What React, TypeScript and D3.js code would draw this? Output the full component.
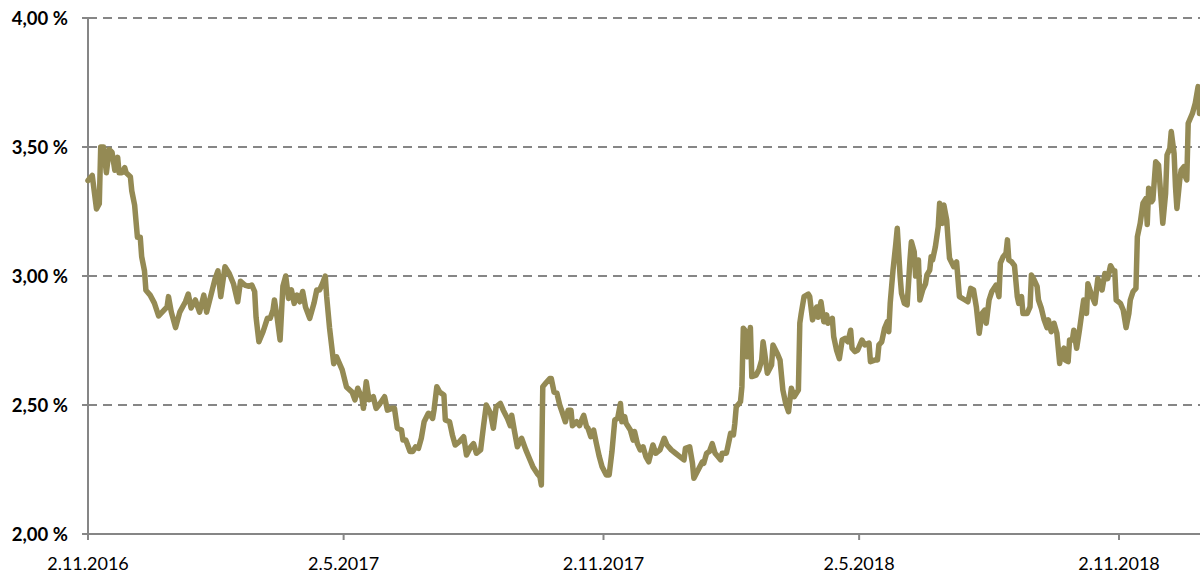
import React from "react";
import * as d3 from "d3";

// Yield series: [days since 2.11.2016, value in %]
const series: [number, number][] = [
  [0,3.37],[3,3.39],[6,3.26],[8,3.28],[9,3.50],[11,3.50],[13,3.40],[15,3.49],[17,3.48],[19,3.41],[21,3.46],[22,3.40],[24,3.40],[26,3.42],[27,3.40],[30,3.385],[31,3.33],[33,3.275],[35,3.15],[37,3.15],[38,3.075],[40,3.02],[41,2.945],[44,2.926],[47,2.895],[50,2.845],[56,2.88],[57,2.92],[59,2.86],[62,2.80],[65,2.86],[69,2.90],[71,2.93],[73,2.876],[76,2.907],[79,2.86],[82,2.926],[84,2.86],[88,2.946],[90,2.99],[92,3.02],[94,2.92],[97,3.036],[100,3.01],[103,2.97],[106,2.90],[108,2.98],[111,2.965],[114,2.96],[116,2.965],[118,2.94],[119,2.84],[121,2.745],[124,2.785],[127,2.836],[129,2.836],[131,2.868],[132,2.907],[134,2.836],[136,2.752],[138,2.96],[140,3.00],[142,2.913],[144,2.946],[146,2.894],[148,2.926],[150,2.90],[152,2.94],[154,2.88],[157,2.836],[160,2.894],[162,2.946],[164,2.946],[166,2.97],[168,3.00],[169,2.92],[171,2.80],[174,2.66],[176,2.687],[180,2.636],[183,2.57],[187,2.55],[189,2.52],[191,2.565],[194,2.526],[195,2.487],[197,2.59],[199,2.52],[202,2.532],[204,2.487],[206,2.50],[210,2.532],[212,2.48],[215,2.487],[217,2.487],[219,2.41],[222,2.403],[223,2.364],[225,2.364],[226,2.35],[228,2.32],[230,2.32],[232,2.338],[234,2.332],[236,2.371],[238,2.435],[241,2.468],[242,2.465],[244,2.448],[245,2.48],[247,2.571],[249,2.55],[252,2.539],[253,2.442],[256,2.435],[258,2.384],[260,2.345],[263,2.358],[266,2.377],[268,2.306],[271,2.338],[273,2.35],[275,2.313],[278,2.326],[280,2.416],[282,2.50],[285,2.468],[287,2.41],[289,2.493],[292,2.506],[294,2.48],[297,2.448],[299,2.42],[300,2.46],[302,2.397],[304,2.338],[307,2.371],[310,2.326],[313,2.287],[315,2.261],[318,2.235],[320,2.222],[321,2.19],[322,2.571],[324,2.584],[327,2.603],[328,2.603],[330,2.55],[332,2.546],[334,2.50],[336,2.468],[338,2.435],[340,2.48],[342,2.48],[343,2.42],[346,2.435],[348,2.42],[350,2.448],[351,2.46],[353,2.416],[354,2.41],[356,2.377],[358,2.403],[360,2.35],[362,2.30],[364,2.261],[367,2.229],[369,2.229],[371,2.32],[373,2.442],[375,2.448],[377,2.506],[378,2.435],[380,2.455],[381,2.429],[384,2.403],[386,2.364],[387,2.397],[389,2.35],[391,2.326],[393,2.338],[395,2.30],[397,2.28],[400,2.345],[402,2.313],[405,2.326],[408,2.371],[410,2.345],[413,2.326],[416,2.313],[419,2.30],[422,2.287],[423,2.332],[426,2.338],[428,2.274],[429,2.216],[432,2.248],[435,2.28],[436,2.274],[438,2.313],[440,2.32],[442,2.35],[444,2.313],[446,2.30],[448,2.287],[449,2.313],[452,2.313],[453,2.338],[455,2.39],[457,2.384],[458,2.429],[459,2.493],[461,2.506],[462,2.513],[463,2.571],[464,2.797],[466,2.784],[467,2.687],[469,2.80],[470,2.61],[473,2.616],[475,2.636],[477,2.674],[478,2.745],[479,2.707],[481,2.623],[484,2.655],[485,2.733],[488,2.70],[490,2.674],[491,2.616],[492,2.558],[494,2.506],[496,2.474],[498,2.565],[500,2.532],[503,2.558],[504,2.817],[505,2.855],[507,2.92],[510,2.93],[511,2.92],[513,2.83],[516,2.88],[517,2.84],[519,2.90],[521,2.823],[523,2.849],[524,2.817],[527,2.836],[528,2.765],[530,2.713],[532,2.68],[534,2.752],[536,2.758],[538,2.745],[540,2.79],[541,2.72],[543,2.707],[545,2.713],[548,2.752],[550,2.733],[553,2.74],[554,2.668],[557,2.674],[559,2.674],[560,2.733],[562,2.745],[564,2.797],[566,2.823],[567,2.784],[568,2.894],[570,3.023],[572,3.127],[573,3.185],[575,3.00],[576,2.933],[578,2.894],[580,2.888],[582,3.062],[583,3.133],[585,3.094],[586,3.00],[588,3.062],[589,2.907],[591,2.946],[593,2.97],[594,3.004],[596,3.023],[597,3.075],[598,3.062],[600,3.114],[602,3.19],[603,3.282],[605,3.204],[606,3.275],[608,3.217],[609,3.14],[610,3.069],[613,3.036],[615,3.055],[617,2.92],[621,2.907],[623,2.90],[625,2.952],[627,2.946],[629,2.88],[631,2.778],[633,2.855],[635,2.868],[636,2.817],[638,2.907],[640,2.94],[643,2.965],[645,2.92],[646,3.05],[648,3.075],[650,3.088],[651,3.14],[652,3.062],[654,3.055],[656,3.04],[658,2.92],[659,2.894],[661,2.92],[662,2.855],[665,2.855],[667,2.88],[668,3.004],[670,2.984],[672,2.96],[673,2.907],[675,2.875],[677,2.83],[679,2.80],[680,2.83],[682,2.784],[684,2.817],[686,2.778],[688,2.661],[689,2.70],[691,2.72],[692,2.674],[694,2.668],[695,2.752],[697,2.752],[698,2.79],[700,2.72],[702,2.79],[704,2.87],[705,2.907],[707,2.855],[708,2.97],[711,2.92],[713,2.894],[715,2.99],[718,2.946],[720,3.01],[722,2.99],[724,3.04],[726,3.02],[727,3.02],[728,2.907],[731,2.894],[733,2.868],[735,2.80],[737,2.855],[738,2.907],[740,2.94],[742,2.952],[743,3.152],[745,3.204],[747,3.282],[749,3.30],[750,3.20],[751,3.34],[753,3.288],[754,3.295],[756,3.443],[758,3.43],[760,3.282],[761,3.204],[763,3.32],[764,3.469],[766,3.495],[767,3.56],[769,3.475],[770,3.346],[771,3.262],[773,3.372],[774,3.41],[776,3.424],[777,3.385],[778,3.372],[779,3.592],[782,3.63],[784,3.67],[786,3.734],[787,3.63]
];

const startDate = "2016-11-02";
const endDate = "2018-12-29";
const xTickDates = ["2016-11-02", "2017-05-02", "2017-11-02", "2018-05-02", "2018-11-02"];
const yTicks = [2.0, 2.5, 3.0, 3.5, 4.0];

const W = 1200;
const H = 577;
const M = { left: 88, right: 0.5, top: 18, bottom: 43 };

export default function App() {
  const parse = d3.utcParse("%Y-%m-%d");
  const start = parse(startDate)!;
  const x = d3
    .scaleUtc()
    .domain([start, parse(endDate)!])
    .range([M.left, W - M.right]);
  const y = d3.scaleLinear().domain([2, 4]).range([H - M.bottom, M.top]);

  const pts = series.map(([d, v]) => ({ date: d3.utcDay.offset(start, d), v }));
  const line = d3
    .line<{ date: Date; v: number }>()
    .x((d) => x(d.date))
    .y((d) => y(d.v));

  const fmtX = d3.utcFormat("%-d.%-m.%Y");
  const fmtY = (v: number) => v.toFixed(2).replace(".", ",") + " %";
  const axisColor = "#868686";
  const x0 = M.left;
  const x1 = W;
  const yBottom = y(2);

  return (
    <svg
      width={W}
      height={H}
      style={{ position: "absolute", left: 0, top: 0, background: "#fff" }}
    >
      {yTicks
        .filter((t) => t > 2)
        .map((t) => (
          <line
            key={"g" + t}
            x1={x0}
            x2={x1}
            y1={y(t)}
            y2={y(t)}
            stroke={axisColor}
            strokeWidth={2}
            strokeDasharray="9,6"
          />
        ))}
      {/* y axis */}
      <line x1={x0} x2={x0} y1={y(4)} y2={yBottom} stroke={axisColor} strokeWidth={2} />
      {yTicks.map((t) => (
        <g key={"yt" + t}>
          <line x1={x0 - 6} x2={x0} y1={y(t)} y2={y(t)} stroke={axisColor} strokeWidth={2} />
          <text
            x={x0 - 20}
            y={y(t)}
            dy="0.36em"
            textAnchor="end"
            fontFamily="Lato, 'Open Sans', sans-serif"
            fontWeight="bold"
            fontSize={18.5}
            fill="#000"
          >
            {fmtY(t)}
          </text>
        </g>
      ))}
      {/* x axis */}
      <line x1={x0} x2={x1} y1={yBottom} y2={yBottom} stroke={axisColor} strokeWidth={2} />
      {xTickDates.map((s) => {
        const d = parse(s)!;
        const px = x(d);
        return (
          <g key={"xt" + s}>
            <line x1={px} x2={px} y1={yBottom} y2={yBottom + 6} stroke={axisColor} strokeWidth={2} />
            <text
              x={px}
              y={570}
              textAnchor="middle"
              fontFamily="Lato, 'Open Sans', sans-serif"
              fontSize={18}
              fill="#000"
            >
              {fmtX(d)}
            </text>
          </g>
        );
      })}
      <path
        d={line(pts) || ""}
        fill="none"
        stroke="#948A54"
        strokeWidth={5.5}
        strokeLinejoin="round"
        strokeLinecap="round"
      />
    </svg>
  );
}
